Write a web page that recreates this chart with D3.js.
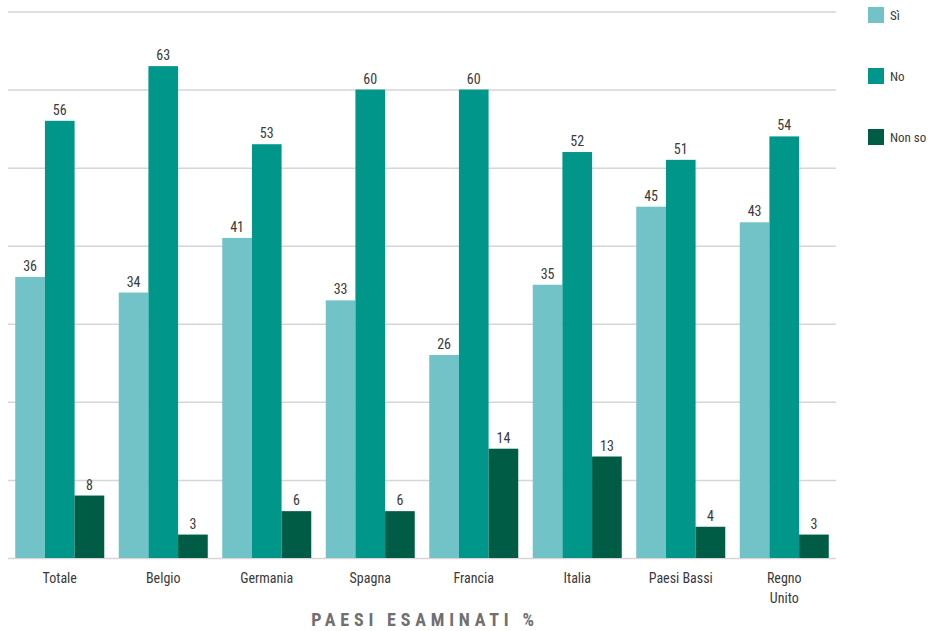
<!DOCTYPE html>
<html>
<head>
<meta charset="utf-8">
<script src="https://cdnjs.cloudflare.com/ajax/libs/d3/7.8.5/d3.min.js"></script>
<style>
  body { margin: 0; background: #fff; }
  svg text { font-family: "Liberation Sans Narrow", "Roboto Condensed", "Liberation Sans", sans-serif; }
</style>
</head>
<body>
<div id="vis"></div>
<script>
const countries = ["Totale", "Belgio", "Germania", "Spagna", "Francia", "Italia", "Paesi Bassi", "Regno Unito"];
const seriesNames = ["Sì", "No", "Non so"];
const si = [36, 34, 41, 33, 26, 35, 45, 43];
const no = [56, 63, 53, 60, 60, 52, 51, 54];
const nonSo = [8, 3, 6, 6, 14, 13, 4, 3];
const gridTicks = [0, 10, 20, 30, 40, 50, 60, 70];
const colors = ["#72c3c7", "#00968a", "#005c44"];

const width = 929, height = 631;
const svg = d3.select("#vis").append("svg").attr("width", width).attr("height", height);

const x0 = d3.scaleBand().domain(countries).range([8, 836]).paddingInner(0.14).paddingOuter(0.07);
const x1 = d3.scaleBand().domain(seriesNames).range([0, x0.bandwidth()]);
const y = d3.scaleLinear().domain([0, 70]).range([558, 11.5]);

// gridlines
svg.append("g").selectAll("line").data(gridTicks).join("line")
  .attr("x1", 8).attr("x2", 836)
  .attr("y1", d => y(d) + 0.5).attr("y2", d => y(d) + 0.5)
  .attr("stroke", "#d6d6d6").attr("stroke-width", 1.5);

const rows = countries.map((c, i) => ({c, vals: [si[i], no[i], nonSo[i]]}));

const groups = svg.append("g").selectAll("g").data(rows).join("g")
  .attr("transform", d => "translate(" + x0(d.c) + ",0)");

groups.selectAll("rect").data(d => d.vals.map((v, k) => ({k, v}))).join("rect")
  .attr("x", d => x1(seriesNames[d.k]))
  .attr("y", d => y(d.v))
  .attr("width", x1.bandwidth())
  .attr("height", d => y(0) - y(d.v))
  .attr("fill", d => colors[d.k]);

groups.selectAll("text.val").data(d => d.vals.map((v, k) => ({k, v}))).join("text")
  .attr("class", "val")
  .attr("x", d => x1(seriesNames[d.k]) + x1.bandwidth() / 2)
  .attr("y", d => y(d.v) - 6)
  .attr("text-anchor", "middle")
  .attr("font-size", 14)
  .attr("fill", "#3a3a3a")
  .text(d => d.v);

// category labels
const cat = svg.append("g").selectAll("text").data(countries).join("text")
  .attr("x", d => x0(d) + x0.bandwidth() / 2)
  .attr("y", 583)
  .attr("text-anchor", "middle")
  .attr("font-size", 14)
  .attr("fill", "#3a3a3a");
cat.each(function(d) {
  const parts = d === "Regno Unito" ? ["Regno", "Unito"] : [d];
  d3.select(this).selectAll("tspan").data(parts).join("tspan")
    .attr("x", x0(d) + x0.bandwidth() / 2)
    .attr("dy", (p, i) => i === 0 ? 0 : 20)
    .text(p => p);
});

// axis title
svg.append("text")
  .attr("x", 425).attr("y", 626)
  .attr("text-anchor", "middle")
  .attr("font-size", 18)
  .attr("font-weight", "bold")
  .attr("letter-spacing", 4.8)
  .attr("fill", "#707070")
  .text("PAESI ESAMINATI %");

// legend
const legend = svg.append("g").selectAll("g").data(seriesNames).join("g")
  .attr("transform", (d, i) => "translate(868," + (7 + i * 61) + ")");
legend.append("rect").attr("width", 16).attr("height", 16).attr("fill", (d, i) => colors[i]);
legend.append("text").attr("x", 22).attr("y", 13).attr("font-size", 13).attr("fill", "#3a3a3a").text(d => d);
</script>
</body>
</html>
